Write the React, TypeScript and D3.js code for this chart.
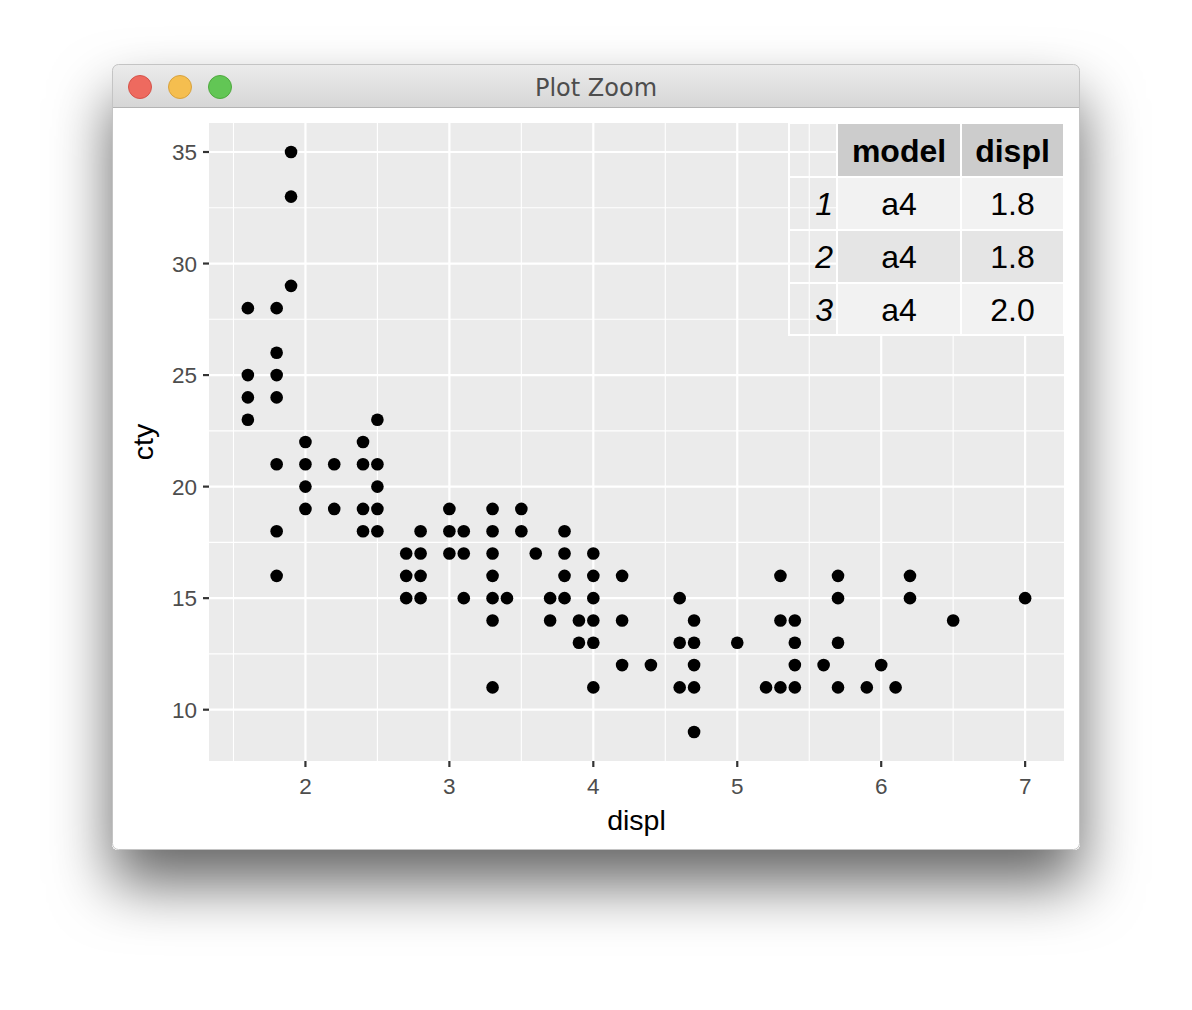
import React from "react";
import * as d3 from "d3";

// ---- data (displ, cty) ----
const displ: number[] = [
  1.6, 1.6, 1.6, 1.6,
  1.8, 1.8, 1.8, 1.8, 1.8, 1.8, 1.8,
  1.9, 1.9, 1.9,
  2.0, 2.0, 2.0, 2.0,
  2.2, 2.2,
  2.4, 2.4, 2.4, 2.4,
  2.5, 2.5, 2.5, 2.5, 2.5,
  2.7, 2.7, 2.7,
  2.8, 2.8, 2.8, 2.8,
  3.0, 3.0, 3.0,
  3.1, 3.1, 3.1,
  3.3, 3.3, 3.3, 3.3, 3.3, 3.3, 3.3,
  3.4,
  3.5, 3.5,
  3.6,
  3.7, 3.7,
  3.8, 3.8, 3.8, 3.8,
  3.9, 3.9,
  4.0, 4.0, 4.0, 4.0, 4.0, 4.0,
  4.2, 4.2, 4.2,
  4.4,
  4.6, 4.6, 4.6,
  4.7, 4.7, 4.7, 4.7, 4.7,
  5.0,
  5.2,
  5.3, 5.3, 5.3,
  5.4, 5.4, 5.4, 5.4,
  5.6,
  5.7, 5.7, 5.7, 5.7,
  5.9,
  6.0,
  6.1,
  6.2, 6.2,
  6.5,
  7.0,
];
const cty: number[] = [
  28, 25, 24, 23,
  28, 26, 25, 24, 21, 18, 16,
  35, 33, 29,
  22, 21, 20, 19,
  21, 19,
  22, 21, 19, 18,
  23, 21, 20, 19, 18,
  17, 16, 15,
  18, 17, 16, 15,
  19, 18, 17,
  18, 17, 15,
  19, 18, 17, 16, 15, 14, 11,
  15,
  19, 18,
  17,
  15, 14,
  18, 17, 16, 15,
  14, 13,
  17, 16, 15, 14, 13, 11,
  16, 14, 12,
  12,
  15, 13, 11,
  14, 13, 12, 11, 9,
  13,
  11,
  16, 14, 11,
  14, 13, 12, 11,
  12,
  16, 15, 13, 11,
  11,
  12,
  11,
  16, 15,
  14,
  15,
];

const xTicks: number[] = [2, 3, 4, 5, 6, 7];
const yTicks: number[] = [10, 15, 20, 25, 30, 35];
const xMinor: number[] = [1.5, 2.5, 3.5, 4.5, 5.5, 6.5];
const yMinor: number[] = [12.5, 17.5, 22.5, 27.5, 32.5];

const tableHeader: string[] = ["model", "displ"];
const tableRowNames: string[] = ["1", "2", "3"];
const tableModel: string[] = ["a4", "a4", "a4"];
const tableDispl: string[] = ["1.8", "1.8", "2.0"];

const xTitle = "displ";
const yTitle = "cty";
const windowTitle = "Plot Zoom";

export default function App() {
  const W = 1192;
  const H = 1010;
  const win = { x: 112, y: 64, w: 968, h: 786, bar: 43 };
  const panel = { left: 209, right: 1064, top: 123, bottom: 761 };

  const xExt = d3.extent(displ) as [number, number];
  const yExt = d3.extent(cty) as [number, number];
  const xPad = (xExt[1] - xExt[0]) * 0.05;
  const yPad = (yExt[1] - yExt[0]) * 0.05;
  const x = d3.scaleLinear().domain([xExt[0] - xPad, xExt[1] + xPad]).range([panel.left, panel.right]);
  const y = d3.scaleLinear().domain([yExt[0] - yPad, yExt[1] + yPad]).range([panel.bottom, panel.top]);

  const points = displ.map((d, i) => ({ x: d, y: cty[i] }));

  const colEdges = [789, 837, 961, panel.right];
  const rowEdges = [panel.top, 177, 230, 283, 335];
  const font = "'Liberation Sans', Arial, Helvetica, sans-serif";
  const bodyFill = ["#f2f2f2", "#e5e5e5", "#f2f2f2"];
  const tfs = 32;

  return (
    <svg width={W} height={H} style={{ position: "absolute", left: 0, top: 0 }} fontFamily={font}>
      <defs>
        <filter id="shadow" x="-30%" y="-30%" width="160%" height="180%">
          <feDropShadow dx="0" dy="34" stdDeviation="30" floodColor="#000" floodOpacity="0.6" />
        </filter>
        <linearGradient id="bar" x1="0" y1="0" x2="0" y2="1">
          <stop offset="0" stopColor="#ececec" />
          <stop offset="1" stopColor="#d6d6d6" />
        </linearGradient>
        <clipPath id="winclip">
          <rect x={win.x} y={win.y} width={win.w} height={win.h} rx={6} ry={6} />
        </clipPath>
      </defs>
      <rect width={W} height={H} fill="#ffffff" />
      <rect x={win.x} y={win.y} width={win.w} height={win.h} rx={6} ry={6} fill="#ffffff" filter="url(#shadow)" />
      <g clipPath="url(#winclip)">
        <rect x={win.x} y={win.y} width={win.w} height={win.h} fill="#ffffff" />
        <rect x={win.x} y={win.y} width={win.w} height={win.bar} fill="url(#bar)" />
        <line x1={win.x} x2={win.x + win.w} y1={win.y + win.bar + 0.5} y2={win.y + win.bar + 0.5} stroke="#b4b4b4" strokeWidth={1} />
      </g>
      <rect x={win.x + 0.5} y={win.y + 0.5} width={win.w - 1} height={win.h - 1} rx={6} ry={6} fill="none" stroke="#c4c4c4" strokeWidth={1} />
      {[
        { cx: 140, fill: "#ee6a5f", stroke: "#d5534a" },
        { cx: 180, fill: "#f5be4f", stroke: "#d8a23e" },
        { cx: 220, fill: "#62c655", stroke: "#4fa93f" },
      ].map((c, i) => (
        <circle key={i} cx={c.cx} cy={87} r={11.5} fill={c.fill} stroke={c.stroke} strokeWidth={1} />
      ))}
      <text x={596} y={96} textAnchor="middle" fontSize={24} fill="#4d4d4d" fontFamily="'DejaVu Sans', 'Liberation Sans', sans-serif">
        {windowTitle}
      </text>

      <rect x={panel.left} y={panel.top} width={panel.right - panel.left} height={panel.bottom - panel.top} fill="#ebebeb" />
      {xMinor.map((v) => (
        <line key={"xm" + v} x1={x(v)} x2={x(v)} y1={panel.top} y2={panel.bottom} stroke="#ffffff" strokeWidth={1.1} />
      ))}
      {yMinor.map((v) => (
        <line key={"ym" + v} y1={y(v)} y2={y(v)} x1={panel.left} x2={panel.right} stroke="#ffffff" strokeWidth={1.1} />
      ))}
      {xTicks.map((v) => (
        <line key={"xg" + v} x1={x(v)} x2={x(v)} y1={panel.top} y2={panel.bottom} stroke="#ffffff" strokeWidth={2.2} />
      ))}
      {yTicks.map((v) => (
        <line key={"yg" + v} y1={y(v)} y2={y(v)} x1={panel.left} x2={panel.right} stroke="#ffffff" strokeWidth={2.2} />
      ))}

      {points.map((p, i) => (
        <circle key={i} cx={x(p.x)} cy={y(p.y)} r={6.3} fill="#000000" />
      ))}

      {yTicks.map((v) => (
        <g key={"yt" + v}>
          <line x1={panel.left - 6} x2={panel.left} y1={y(v)} y2={y(v)} stroke="#333333" strokeWidth={2.2} />
          <text x={panel.left - 12} y={y(v)} dy="0.36em" textAnchor="end" fontSize={22.5} fill="#4d4d4d">
            {v}
          </text>
        </g>
      ))}
      {xTicks.map((v) => (
        <g key={"xt" + v}>
          <line x1={x(v)} x2={x(v)} y1={panel.bottom} y2={panel.bottom + 6} stroke="#333333" strokeWidth={2.2} />
          <text x={x(v)} y={panel.bottom + 33} textAnchor="middle" fontSize={22.5} fill="#4d4d4d">
            {v}
          </text>
        </g>
      ))}
      <text x={(panel.left + panel.right) / 2} y={830} textAnchor="middle" fontSize={28.5} fill="#000000">
        {xTitle}
      </text>
      <text transform={`translate(153, ${(panel.top + panel.bottom) / 2}) rotate(-90)`} textAnchor="middle" fontSize={28.5} fill="#000000">
        {yTitle}
      </text>

      <g>
        {tableHeader.map((h, j) => (
          <g key={"h" + j}>
            <rect x={colEdges[j + 1]} y={rowEdges[0]} width={colEdges[j + 2] - colEdges[j + 1]} height={rowEdges[1] - rowEdges[0]} fill="#cccccc" stroke="#ffffff" strokeWidth={2} />
            <text x={(colEdges[j + 1] + colEdges[j + 2]) / 2} y={(rowEdges[0] + rowEdges[1]) / 2} dy="0.36em" textAnchor="middle" fontSize={tfs} fontWeight="bold" fill="#000">
              {h}
            </text>
          </g>
        ))}
        {[0, 1, 2, 3].map((r) => (
          <rect key={"rn" + r} x={colEdges[0]} y={rowEdges[r]} width={colEdges[1] - colEdges[0]} height={rowEdges[r + 1] - rowEdges[r]} fill="none" stroke="#ffffff" strokeWidth={2} />
        ))}
        {tableRowNames.map((rn, r) => {
          const yc = (rowEdges[r + 1] + rowEdges[r + 2]) / 2;
          const vals = [tableModel[r], tableDispl[r]];
          return (
            <g key={"r" + r}>
              <text x={colEdges[1] - 4} y={yc} dy="0.36em" textAnchor="end" fontSize={tfs} fontStyle="italic" fill="#000">
                {rn}
              </text>
              {vals.map((v, j) => (
                <g key={j}>
                  <rect x={colEdges[j + 1]} y={rowEdges[r + 1]} width={colEdges[j + 2] - colEdges[j + 1]} height={rowEdges[r + 2] - rowEdges[r + 1]} fill={bodyFill[r]} stroke="#ffffff" strokeWidth={2} />
                  <text x={(colEdges[j + 1] + colEdges[j + 2]) / 2} y={yc} dy="0.36em" textAnchor="middle" fontSize={tfs} fill="#000">
                    {v}
                  </text>
                </g>
              ))}
            </g>
          );
        })}
      </g>
    </svg>
  );
}
